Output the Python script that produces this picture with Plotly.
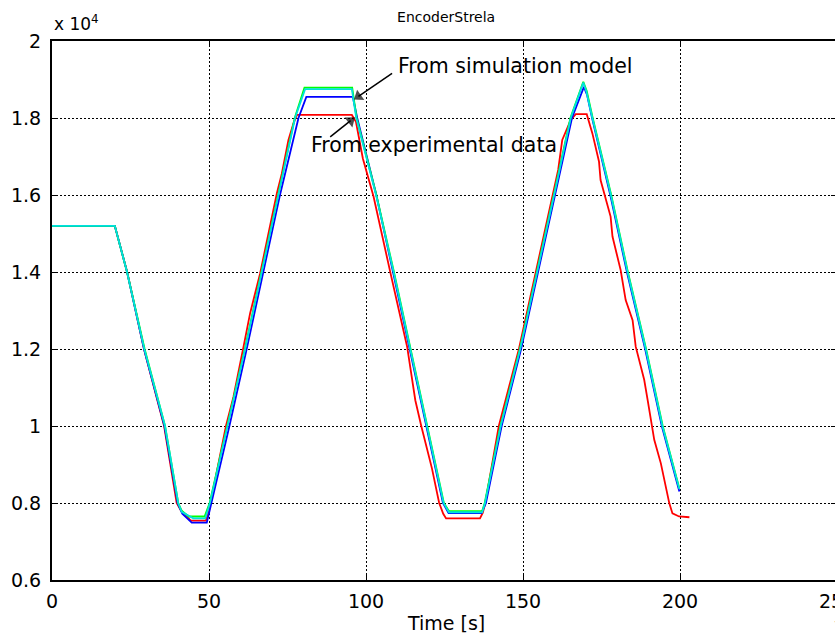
import plotly.graph_objects as go

# ---------------- data (encoder counts vs time in s) ----------------
t_exp = [0, 20, 24, 29.3, 35.7, 39.7, 41.1, 43.5, 44.2, 49.0, 50.0, 55.4, 57.8, 61.0, 63.1,
         66.3, 69.5, 71.6, 73.2, 75.3, 76.9, 78.0, 95.5, 96.8, 99.0, 102.4, 107.8, 113.1,
         115.7, 117.6, 121.0, 123.3, 124.6, 125.5, 136.3, 137.2, 138.0, 142.3, 148.7, 154.0,
         159.3, 161.2, 162.5, 165.2, 166.8, 170.3, 172.1, 174.2, 174.7, 177.9, 178.5, 181.1,
         182.7, 184.9, 185.9, 188.6, 189.7, 191.8, 193.9, 195.5, 196.6, 197.6, 199.7, 203.0]
enc_exp = [15200, 15200, 13980, 12000, 10000, 8000, 7800, 7580, 7540, 7540, 7800, 10000, 10760,
           12060, 12930, 13970, 15260, 16040, 16560, 17430, 17860, 18080, 18080, 17900, 16950,
           15960, 13970, 12060, 10670, 10000, 8900, 8000, 7720, 7600, 7600, 7750, 8000, 10000,
           12000, 13970, 16000, 16650, 17430, 17950, 18100, 18100, 17600, 16870, 16390, 15440,
           14920, 14050, 13270, 12750, 12060, 11200, 10670, 9640, 9030, 8420, 7990, 7730, 7650,
           7630]

t_sim_b = [0, 20, 23.9, 29.3, 35.8, 40.0, 41.5, 44.5, 49.3, 50.8, 56.5, 62.0, 67.3, 72.6, 78.5,
           81.0, 95.8, 97.2, 103.3, 108.6, 113.9, 119.2, 124.5, 126.3, 136.8, 138.2, 143.2,
           149.4, 154.9, 160.2, 165.6, 168.3, 169.4, 170.4, 172.0, 177.8, 183.1, 188.9, 194.2,
           199.8]
enc_sim_b = [15200, 15200, 14000, 12000, 10000, 8000, 7720, 7490, 7490, 8000, 10000, 12000,
             14000, 16000, 18000, 18550, 18550, 18000, 16000, 14000, 12000, 10000, 8000, 7740,
             7740, 8000, 10000, 12000, 14000, 16000, 18000, 18600, 18810, 18600, 18000, 16000,
             14000, 12000, 10000, 8300]

t_sim_g = [0, 20, 23.9, 29.5, 36.0, 40.2, 41.3, 43.5, 48.6, 50.2, 55.8, 61.4, 66.7, 72.0, 77.3,
           80.4, 95.6, 97.0, 103.3, 108.9, 114.2, 119.5, 124.8, 126.4, 137.0, 137.8, 142.8,
           149.0, 154.5, 159.8, 165.1, 168.0, 169.2, 170.3, 172.2, 178.1, 183.4, 189.2, 194.5,
           199.8]
enc_sim_g = [15200, 15200, 14000, 12000, 10000, 8000, 7800, 7650, 7650, 8000, 10000, 12000,
             14000, 16000, 18000, 18790, 18790, 18000, 16000, 14000, 12000, 10000, 8000, 7790,
             7790, 8000, 10000, 12000, 14000, 16000, 18000, 18700, 18940, 18700, 18000, 16000,
             14000, 12000, 10000, 8380]

t_sim_c = [0, 20, 23.9, 29.4, 36.0, 40.2, 41.3, 45.0, 48.8, 50.3, 55.9, 61.5, 66.8, 72.1, 77.4,
           80.6, 95.5, 96.9, 103.2, 108.8, 114.1, 119.4, 124.7, 126.4, 137.0, 137.9, 142.9,
           149.1, 154.6, 159.9, 165.2, 168.1, 169.2, 170.2, 172.1, 178.0, 183.3, 189.1, 194.4,
           199.8]
enc_sim_c = [15200, 15200, 14000, 12000, 10000, 8000, 7770, 7600, 7600, 8000, 10000, 12000,
             14000, 16000, 18000, 18750, 18750, 18000, 16000, 14000, 12000, 10000, 8000, 7760,
             7760, 8000, 10000, 12000, 14000, 16000, 18000, 18680, 18920, 18680, 18000, 16000,
             14000, 12000, 10000, 8360]

# annotation arrows: [tail, head] in (time, counts)
arrow_sim_t = [108.3, 97.6]
arrow_sim_y = [19160, 18560]
arrow_exp_t = [88.6, 95.1]
arrow_exp_y = [17510, 17930]

x_ticks = [0, 50, 100, 150, 200, 250]
y_ticks = [6000, 8000, 10000, 12000, 14000, 16000, 18000, 20000]
y_tick_text = ["0.6", "0.8", "1", "1.2", "1.4", "1.6", "1.8", "2"]

FONT = "DejaVu Sans, Verdana, sans-serif"

fig = go.Figure()
series = [
    (t_exp, enc_exp, "#ff0000", "Experimental"),
    (t_sim_b, enc_sim_b, "#0000ff", "Simulation (blue)"),
    (t_sim_g, enc_sim_g, "#00ff00", "Simulation (green)"),
    (t_sim_c, enc_sim_c, "#00e0e0", "Simulation (cyan)"),
]
for t, y, c, n in series:
    fig.add_trace(go.Scatter(x=t, y=y, mode="lines", name=n,
                             line=dict(color=c, width=1.8), showlegend=False))

for at, ay in [(arrow_sim_t, arrow_sim_y), (arrow_exp_t, arrow_exp_y)]:
    fig.add_trace(go.Scatter(x=at, y=ay, mode="lines+markers", showlegend=False,
                             hoverinfo="skip",
                             line=dict(color="black", width=1.5),
                             marker=dict(symbol=["circle", "triangle-up"], size=[0, 11],
                                         angleref="previous", color="black",
                                         line=dict(width=0))))

axis_common = dict(
    showgrid=True, gridcolor="black", gridwidth=1, griddash="2px,2px",
    showline=True, linecolor="black", linewidth=2, mirror="ticks",
    ticks="inside", ticklen=6, tickcolor="black", tickwidth=1,
    zeroline=False, automargin=False,
    tickfont=dict(family=FONT, size=19, color="black"),
)

fig.update_layout(
    width=837, height=640,
    margin=dict(l=52, r=0, t=41, b=60, autoexpand=False),
    paper_bgcolor="white", plot_bgcolor="white",
    font=dict(family=FONT, color="black"),
    title=dict(text="EncoderStrela", x=0.533, xanchor="center", y=1 - 17 / 640,
               yanchor="middle", yref="container", font=dict(size=14, color="black")),
    xaxis=dict(range=[0, 250], tickvals=x_ticks, ticklabelstandoff=3,
               ticklabeloverflow="allow", **axis_common),
    yaxis=dict(range=[6000, 20000], tickvals=y_ticks, ticktext=y_tick_text,
               ticklabelstandoff=5, **axis_common),
)

# axis title (placed as paper annotation for exact position)
fig.add_annotation(xref="paper", yref="paper", x=0.502, y=-43 / 539, xanchor="center",
                   yanchor="middle", text="Time [s]", showarrow=False,
                   font=dict(family=FONT, size=19, color="black"))

fig.add_annotation(xref="paper", yref="paper", x=0, y=1, xanchor="left", yanchor="bottom",
                   yshift=5, text="x 10<sup>4</sup>", showarrow=False,
                   font=dict(family=FONT, size=17, color="black"))

fig.add_annotation(x=109.7, y=19350, xref="x", yref="y", text="From simulation model",
                   showarrow=False, xanchor="left", yanchor="middle",
                   font=dict(family=FONT, size=20.5, color="black"))
fig.add_annotation(x=81.7, y=17300, xref="x", yref="y", text="From experimental data",
                   showarrow=False, xanchor="left", yanchor="middle",
                   font=dict(family=FONT, size=20.5, color="black"))

# partially visible text at the bottom-right edge of the original picture
fig.add_annotation(xref="paper", yref="paper", x=(832 - 52) / 785, y=-48 / 539,
                   xanchor="left", yanchor="middle", text="T", showarrow=False,
                   font=dict(family=FONT, size=15, color="#555555"))

fig.write_html("out.html", config={"displayModeBar": False},
               post_script="document.body.style.margin='0';"
                           "document.body.style.overflow='hidden';")
